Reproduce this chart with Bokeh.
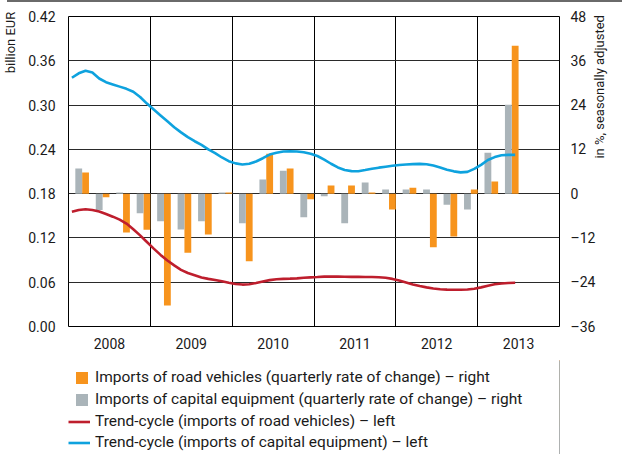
import math
from bokeh.plotting import figure
from bokeh.layouts import column
from bokeh.models import (Range1d, LinearAxis, FixedTicker, Legend, LegendItem, Div)
from bokeh.embed import file_html
from bokeh.resources import INLINE

# ---------------- data ----------------
years = ["2008", "2009", "2010", "2011", "2012", "2013"]
quarters = ["2008Q1", "2008Q2", "2008Q3", "2008Q4",
            "2009Q1", "2009Q2", "2009Q3", "2009Q4",
            "2010Q1", "2010Q2", "2010Q3", "2010Q4",
            "2011Q1", "2011Q2", "2011Q3", "2011Q4",
            "2012Q1", "2012Q2", "2012Q3", "2012Q4",
            "2013Q1", "2013Q2"]
# quarterly rate of change, % (right axis)
road_vehicles_qoq = [5.7, -1.0, -10.5, -9.8,
                     -30.3, -16.0, -11.1, 0.3,
                     -18.3, 10.8, 6.8, -1.5,
                     2.2, 2.2, 0.3, -4.3,
                     1.6, -14.5, -11.6, 1.1,
                     3.3, 40.1]
capital_equipment_qoq = [6.8, -4.4, 0.3, -5.3,
                         -7.5, -9.7, -7.5, 0.3,
                         -8.0, 3.8, 6.2, -6.4,
                         -0.7, -8.0, 3.0, 1.1,
                         1.1, 1.1, -3.0, -4.3,
                         11.1, 24.1]
# monthly trend-cycle, billion EUR (left axis), Jan 2008 - Jun 2013
months_start_year = 2008
trend_road_vehicles = [
    0.1555, 0.1578, 0.1588, 0.1578, 0.1558, 0.1525, 0.1488, 0.1448, 0.1395, 0.1318, 0.1235, 0.1145,
    0.1055, 0.0970, 0.0895, 0.0828, 0.0768, 0.0725, 0.0695, 0.0665, 0.0645, 0.0630, 0.0612, 0.0592,
    0.0575, 0.0568, 0.0572, 0.0590, 0.0610, 0.0628, 0.0640, 0.0645, 0.0648, 0.0652, 0.0660, 0.0665,
    0.0670, 0.0676, 0.0677, 0.0676, 0.0675, 0.0673, 0.0672, 0.0671, 0.0670, 0.0668, 0.0660, 0.0645,
    0.0622, 0.0596, 0.0570, 0.0548, 0.0530, 0.0515, 0.0505, 0.0499, 0.0497, 0.0497, 0.0502, 0.0512,
    0.0530, 0.0553, 0.0572, 0.0583, 0.0589, 0.0592]
trend_capital_equipment = [
    0.3370, 0.3430, 0.3465, 0.3440, 0.3360, 0.3310, 0.3280, 0.3250, 0.3220, 0.3180, 0.3110, 0.3020,
    0.2940, 0.2860, 0.2780, 0.2700, 0.2630, 0.2565, 0.2510, 0.2460, 0.2400, 0.2350, 0.2290, 0.2240,
    0.2210, 0.2195, 0.2205, 0.2235, 0.2280, 0.2330, 0.2355, 0.2370, 0.2375, 0.2370, 0.2360, 0.2340,
    0.2310, 0.2260, 0.2205, 0.2155, 0.2120, 0.2105, 0.2103, 0.2120, 0.2138, 0.2152, 0.2165, 0.2178,
    0.2188, 0.2195, 0.2200, 0.2203, 0.2198, 0.2180, 0.2155, 0.2125, 0.2102, 0.2088, 0.2095, 0.2135,
    0.2190, 0.2255, 0.2295, 0.2320, 0.2325, 0.2325]
left_ticks = [0.00, 0.06, 0.12, 0.18, 0.24, 0.30, 0.36, 0.42]
left_tick_labels = ["0.00", "0.06", "0.12", "0.18", "0.24", "0.30", "0.36", "0.42"]
right_ticks = [-36, -24, -12, 0, 12, 24, 36, 48]
right_tick_labels = ["\u201336", "\u201324", "\u201312", "0", "12", "24", "36", "48"]
left_axis_title = "billion EUR"
right_axis_title = "in %, seasonally adjusted"
legend_labels = ["Imports of road vehicles (quarterly rate of change) \u2013 right",
                 "Imports of capital equipment (quarterly rate of change) \u2013 right",
                 "Trend-cycle (imports of road vehicles) \u2013 left",
                 "Trend-cycle (imports of capital equipment) \u2013 left"]

# ---------------- styling ----------------
FONT = "Roboto"
FS = "14px"
FS_TITLE = "13px"
FS_LEG = "15.5px"
TXT = "#1a1a1a"
ORANGE = "#f7941d"
GREY = "#aab4b9"
RED = "#be1e2d"
BLUE = "#0ea2de"
W = 622
BL, BR = 67, 63          # side borders -> frame from x=67 to x=559
NBSP = "\u00a0"

# positions derived from categories
q_year = [int(q[:4]) for q in quarters]
q_num = [int(q[-1]) for q in quarters]
x_grey = [y + (3 * n - 1.5) / 12 for y, n in zip(q_year, q_num)]
x_orange = [y + (3 * n - 0.5) / 12 for y, n in zip(q_year, q_num)]
x_month = [months_start_year + (m + 0.5) / 12 for m in range(len(trend_road_vehicles))]
year_nums = [int(y) for y in years]

# thin rule on top of the chart
rule = Div(text="", width=W - 7, height=2, margin=(0, 0, 0, 7),
           styles={"background-color": "#6a6a6a"})

# ---------------- main chart ----------------
p = figure(width=W, height=358, output_backend="svg", toolbar_location=None,
           x_range=Range1d(year_nums[0], year_nums[-1] + 1),
           y_range=Range1d(left_ticks[0], left_ticks[-1]),
           min_border_left=BL, min_border_right=BR, min_border_top=14, min_border_bottom=34,
           title=None)
p.extra_y_ranges = {"pct": Range1d(right_ticks[0], right_ticks[-1])}
p.outline_line_color = "black"
p.outline_line_width = 1
p.background_fill_color = "white"
p.border_fill_color = "white"

p.xgrid.ticker = FixedTicker(ticks=year_nums[1:])
p.xgrid.grid_line_color = "black"
p.xgrid.grid_line_width = 1
p.ygrid.ticker = FixedTicker(ticks=left_ticks)
p.ygrid.grid_line_color = "#2a2a2a"
p.ygrid.grid_line_width = 1

xa = p.xaxis[0]
xa.ticker = FixedTicker(ticks=[y + 0.5 for y in year_nums])
xa.major_label_overrides = {y + 0.5: s for y, s in zip(year_nums, years)}
ya = p.yaxis[0]
ya.ticker = FixedTicker(ticks=left_ticks)
ya.major_label_overrides = {t: s for t, s in zip(left_ticks, left_tick_labels)}
ra = LinearAxis(y_range_name="pct", ticker=FixedTicker(ticks=right_ticks))
ra.major_label_overrides = {t: s for t, s in zip(right_ticks, right_tick_labels)}
p.add_layout(ra, "right")
for ax in (xa, ya, ra):
    ax.axis_line_color = None
    ax.major_tick_line_color = None
    ax.minor_tick_line_color = None
    ax.major_tick_out = 0
    ax.major_tick_in = 0
    ax.major_label_text_font = FONT
    ax.major_label_text_font_size = FS
    ax.major_label_text_color = TXT
xa.major_label_standoff = 11
ya.major_label_standoff = 13
ra.major_label_standoff = 11

# axis titles sit at the top end of the axis
ya.axis_label = NBSP * 80 + left_axis_title
ra.axis_label = NBSP * 4 + right_axis_title
for ax in (ya, ra):
    ax.axis_label_text_font = FONT
    ax.axis_label_text_font_size = FS_TITLE
    ax.axis_label_text_font_style = "normal"
    ax.axis_label_text_color = TXT
ya.axis_label_standoff = 7
ra.axis_label_standoff = 1
ra.axis_label_orientation = math.pi / 2

w = 1 / 12
p.vbar(x=x_orange, top=road_vehicles_qoq, bottom=0, width=w,
       fill_color=ORANGE, line_color=None, y_range_name="pct")
p.vbar(x=x_grey, top=capital_equipment_qoq, bottom=0, width=w,
       fill_color=GREY, line_color=None, y_range_name="pct")
p.line(x_month, trend_road_vehicles, line_color=RED, line_width=2.6)
p.line(x_month, trend_capital_equipment, line_color=BLUE, line_width=2.6)

# ---------------- legend strip (same series, drawn outside its view) ----------------
LH = 94
q = figure(width=W, height=LH, output_backend="svg", toolbar_location=None,
           x_axis_type=None, y_axis_type=None, title=None,
           x_range=Range1d(0, 1), y_range=Range1d(0, 1),
           min_border_left=BL, min_border_right=BR, min_border_top=0, min_border_bottom=0)
q.outline_line_color = None
q.grid.visible = False
q.background_fill_color = "white"
q.border_fill_color = "white"
k_o = q.vbar(x=x_orange, top=road_vehicles_qoq, width=w, fill_color=ORANGE, line_color=None)
k_g = q.vbar(x=x_grey, top=capital_equipment_qoq, width=w, fill_color=GREY, line_color=None)
k_r = q.line(x_month, trend_road_vehicles, line_color=RED, line_width=2.6)
k_b = q.line(x_month, trend_capital_equipment, line_color=BLUE, line_width=2.6)

def make_legend(items, gw, standoff, loc, spacing):
    return Legend(items=items, location=loc, orientation="vertical",
                  glyph_width=gw, glyph_height=15, label_height=18, spacing=spacing,
                  padding=0, margin=0, label_standoff=standoff,
                  border_line_color=None, background_fill_alpha=0,
                  label_text_font=FONT, label_text_font_size=FS_LEG,
                  label_text_color=TXT)

lg1 = make_legend([LegendItem(label=legend_labels[0], renderers=[k_o]),
                   LegendItem(label=legend_labels[1], renderers=[k_g])], 15, 6, (6, 46), 4)
lg2 = make_legend([LegendItem(label=legend_labels[2], renderers=[k_r]),
                   LegendItem(label=legend_labels[3], renderers=[k_b])], 22, 5, (0, 3), 3)
q.add_layout(lg1, "center")
q.add_layout(lg2, "center")

layout = column(rule, p, q, spacing=0)
open("out.html", "w").write(file_html(layout, INLINE))
